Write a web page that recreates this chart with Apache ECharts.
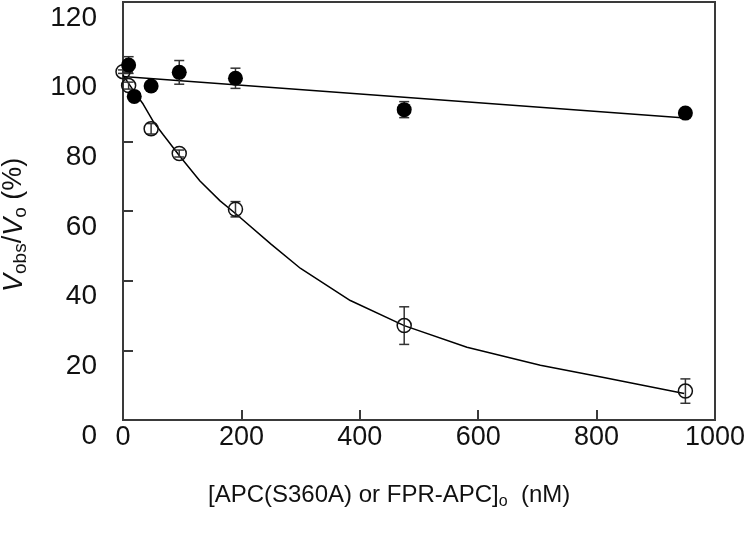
<!DOCTYPE html>
<html>
<head>
<meta charset="utf-8">
<script src="https://cdn.jsdelivr.net/npm/echarts@6/dist/echarts.min.js"></script>
<style>
  html, body { margin: 0; padding: 0; background: #fff; }
  #main { width: 750px; height: 542px; }
</style>
</head>
<body>
<div id="main"></div>
<script>
// concentrations (nM)
const filledX = [9.5, 19, 47.5, 95, 190, 475, 950];
const filledY = [101.9, 92.9, 95.9, 99.8, 98.1, 89.1, 88.1];
const filledErr = [2.4, 1.0, 0.8, 3.4, 2.9, 2.3, 1.0];

const openX = [0, 9.5, 47.5, 95, 190, 475, 950];
const openY = [100, 96, 83.6, 76.5, 60.5, 27.1, 8.3];
const openErr = [0.5, 1.0, 1.5, 1.0, 2.2, 5.4, 3.5];

// fitted lines
const fitFlatX = [0, 950];
const fitFlatY = [98.6, 86.7];
const fitCurveX = [0, 10, 20, 34, 51, 68, 96, 130, 164, 192, 250, 300, 384, 475, 581, 705, 812, 948];
const fitCurveY = [99, 96.5, 94, 90.7, 85.7, 81.9, 75.7, 68.6, 62.9, 59, 50.5, 43.5, 34.3, 27.1, 20.9, 15.7, 12.2, 7.6];

const xTicks = [0, 200, 400, 600, 800, 1000];
const yTicks = [0, 20, 40, 60, 80, 100, 120];

const zip = (xs, ys) => xs.map((x, i) => [x, ys[i]]);
const errData = (xs, ys, es) => xs.map((x, i) => [x, ys[i] - es[i], ys[i] + es[i]]);

const axisColor = '#3a3a3a';
const textColor = '#111';
const font = 'Liberation Sans, Arial, sans-serif';

const chartDom = document.getElementById('main');
const myChart = echarts.init(chartDom);

function renderErr(params, api) {
  const x = api.value(0);
  const lo = api.coord([x, api.value(1)]);
  const hi = api.coord([x, api.value(2)]);
  const w = 5;
  const style = { stroke: '#333', lineWidth: 1.5 };
  return {
    type: 'group',
    children: [
      { type: 'line', shape: { x1: lo[0], y1: lo[1], x2: hi[0], y2: hi[1] }, style: style },
      { type: 'line', shape: { x1: lo[0] - w, y1: lo[1], x2: lo[0] + w, y2: lo[1] }, style: style },
      { type: 'line', shape: { x1: hi[0] - w, y1: hi[1], x2: hi[0] + w, y2: hi[1] }, style: style }
    ]
  };
}

const option = {
  animation: false,
  grid: {
    left: 123,
    right: 35,
    top: 2,
    bottom: 122,
    outerBoundsMode: 'none',
    containLabel: false,
    show: true,
    borderColor: axisColor,
    borderWidth: 2
  },
  xAxis: {
    type: 'value',
    min: 0,
    max: 1000,
    interval: 200,
    axisLine: { show: true, lineStyle: { color: axisColor, width: 2 } },
    axisTick: { show: true, inside: true, length: 10, lineStyle: { color: axisColor, width: 2 } },
    splitLine: { show: false },
    axisLabel: {
      color: textColor,
      fontFamily: font,
      fontSize: 27,
      margin: 4,
      formatter: v => xTicks.includes(v) ? String(v) : ''
    }
  },
  yAxis: {
    type: 'value',
    min: 0,
    max: 120,
    interval: 20,
    axisLine: { show: true, lineStyle: { color: axisColor, width: 2 } },
    axisTick: { show: true, inside: true, length: 10, lineStyle: { color: axisColor, width: 2 } },
    splitLine: { show: false },
    axisLabel: {
      color: textColor,
      fontFamily: font,
      fontSize: 28,
      margin: 26,
      verticalAlign: 'top',
      lineHeight: 32,
      formatter: v => yTicks.includes(v) ? String(v) : ''
    }
  },
  graphic: [
    {
      type: 'text',
      left: 208,
      top: 483,
      style: {
        text: '{m|[APC(S360A) or FPR-APC]}{s|o}{m|  (nM)}',
        fill: textColor,
        rich: {
          m: { fontFamily: font, fontSize: 24, lineHeight: 30, verticalAlign: 'middle' },
          s: { fontFamily: font, fontSize: 16, lineHeight: 16, verticalAlign: 'bottom' }
        }
      }
    },
    {
      type: 'text',
      x: -2,
      y: 292,
      rotation: Math.PI / 2,
      style: {
        text: '{v|V}{s|obs}{m|/}{v|V}{s|o}{m| (%)}',
        fill: textColor,
        rich: {
          v: { fontFamily: font, fontSize: 27, fontStyle: 'italic', lineHeight: 32, verticalAlign: 'middle' },
          m: { fontFamily: font, fontSize: 27, lineHeight: 32, verticalAlign: 'middle' },
          s: { fontFamily: font, fontSize: 19, lineHeight: 19, verticalAlign: 'bottom' }
        }
      }
    }
  ],
  series: [
    {
      name: 'fit flat',
      type: 'line',
      data: zip(fitFlatX, fitFlatY),
      symbol: 'none',
      lineStyle: { color: '#000', width: 1.5 },
      z: 2
    },
    {
      name: 'fit curve',
      type: 'line',
      data: zip(fitCurveX, fitCurveY),
      symbol: 'none',
      lineStyle: { color: '#000', width: 1.5 },
      z: 2
    },
    {
      name: 'open err',
      type: 'custom',
      renderItem: renderErr,
      data: errData(openX, openY, openErr),
      clip: false,
      z: 3
    },
    {
      name: 'FPR-APC',
      type: 'scatter',
      data: zip(openX, openY),
      symbol: 'circle',
      symbolSize: 14,
      clip: false,
      itemStyle: { color: 'rgba(0,0,0,0)', borderColor: '#111', borderWidth: 1.5, opacity: 1 },
      z: 4
    },
    {
      name: 'filled err',
      type: 'custom',
      renderItem: renderErr,
      data: errData(filledX, filledY, filledErr),
      clip: false,
      z: 3
    },
    {
      name: 'APC(S360A)',
      type: 'scatter',
      data: zip(filledX, filledY),
      symbol: 'circle',
      symbolSize: 15,
      clip: false,
      itemStyle: { color: '#000', opacity: 1 },
      z: 5
    }
  ]
};

myChart.setOption(option);
</script>
</body>
</html>
